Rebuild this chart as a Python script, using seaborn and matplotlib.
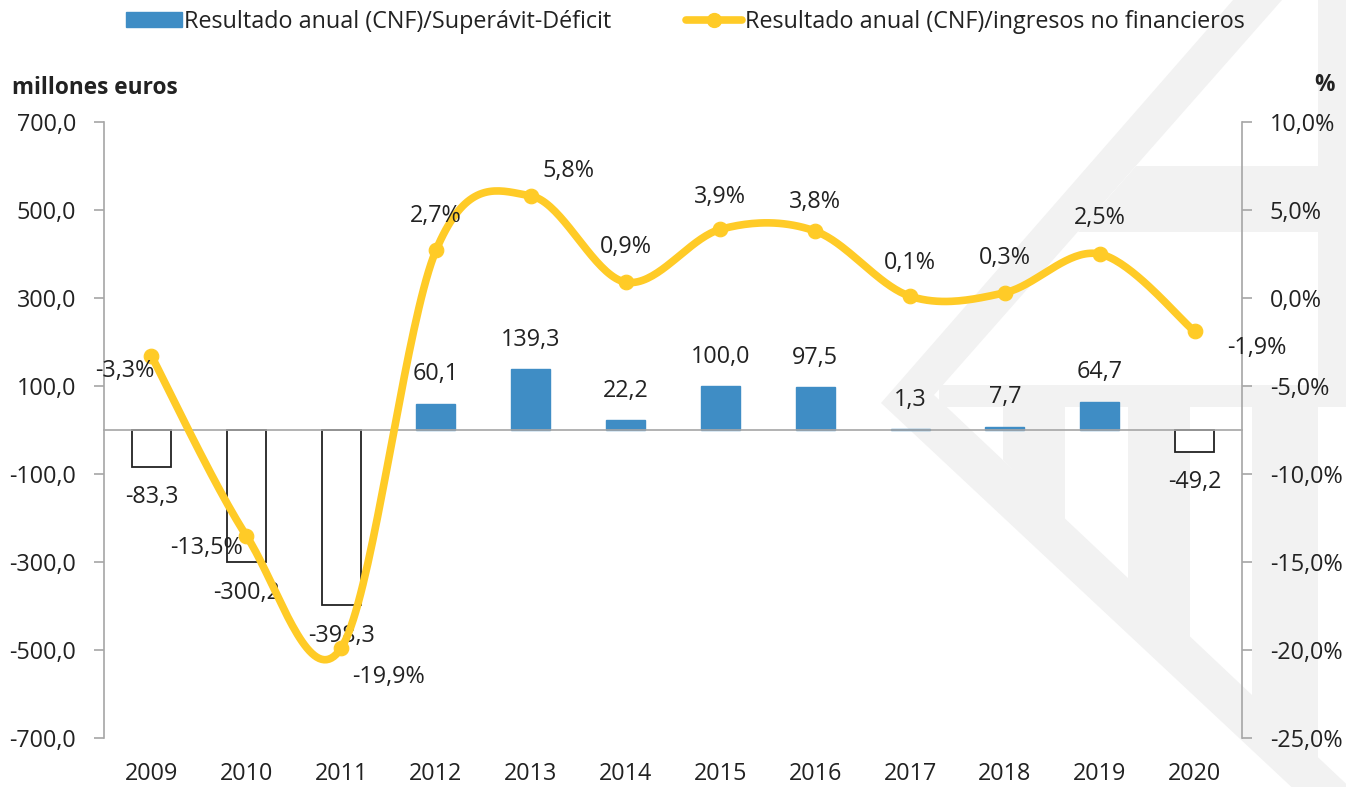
import numpy as np
import pandas as pd
import matplotlib
matplotlib.use("Agg")
import matplotlib.pyplot as plt
import seaborn as sns
from matplotlib.patches import Patch, Polygon
from matplotlib.lines import Line2D

# datos
anios = ["2009", "2010", "2011", "2012", "2013", "2014", "2015", "2016",
         "2017", "2018", "2019", "2020"]
resultado = [-83.3, -300.2, -398.3, 60.1, 139.3, 22.2, 100.0, 97.5, 1.3, 7.7, 64.7, -49.2]
ratio = [-3.3, -13.5, -19.9, 2.7, 5.8, 0.9, 3.9, 3.8, 0.1, 0.3, 2.5, -1.9]

# desplazamiento de las etiquetas del porcentaje (puntos)
off_ratio = [(-19, -11), (-29, -9), (34, -21), (0, 25), (27, 18), (0, 25),
             (0, 23), (0, 21), (0, 24), (0, 25), (0, 26), (45, -12)]

azul = "#3F8DC5"
amarillo = "#FFCB27"
texto = "#222222"
gris = "#A6A6A6"
fs = 16.8

sns.set_style("white")
plt.rcParams["font.family"] = ["Open Sans", "DejaVu Sans"]
plt.rcParams["font.size"] = fs

W, H = 1346, 787
fig = plt.figure(figsize=(W / 100, H / 100), dpi=100)

# marca de agua (logo gris claro al fondo), en pixeles de la figura
marca = [
    [(1233, 0), (1282, 0), (934, 395), (1358, 795), (1300, 795), (881, 403)],
    [(1136, 166), (1318, 166), (1318, 232), (1078, 232)],
    [(1318, 0), (1346, 0), (1346, 385), (1318, 385)],
    [(939, 385), (1346, 385), (1346, 407), (939, 407)],
    [(1003, 407), (1065, 407), (1065, 521), (1003, 460)],
    [(1128, 407), (1190, 407), (1190, 648), (1128, 582)],
    [(1252, 407), (1318, 407), (1318, 771), (1252, 700)],
]
for pts in marca:
    fig.patches.append(Polygon([(x / W, 1 - y / H) for x, y in pts], closed=True,
                               transform=fig.transFigure, facecolor="#F2F2F2",
                               edgecolor="none", zorder=-5))

ax = fig.add_axes([0.0773, 0.0623, 0.8454, 0.7827])
ax.set_facecolor("none")

df = pd.DataFrame({"anio": anios, "resultado": resultado})
sns.barplot(data=df, x="anio", y="resultado", ax=ax, width=0.41, color=azul,
            saturation=1)
for p, v in zip(ax.patches, resultado):
    if v < 0:
        p.set_facecolor("white")
        p.set_edgecolor("#222222")
        p.set_linewidth(1.3)
    else:
        p.set_edgecolor(azul)
    p.set_zorder(2)

ax.set_ylim(-700, 700)
ax.set_xlim(-0.5, len(anios) - 0.5)
yt = np.arange(-700, 701, 200)
ax.set_yticks(yt)
ax.set_yticklabels([f"{v:.1f}".replace(".", ",") for v in yt], color=texto)
ax.set_xlabel("")
ax.set_ylabel("")

# eje x en el cero con marcas entre categorias
ax.spines["bottom"].set_position(("data", 0))
ax.spines["top"].set_visible(False)
ax.spines["right"].set_visible(False)
for s in ["bottom", "left"]:
    ax.spines[s].set_color(gris)
    ax.spines[s].set_linewidth(1.2)
ax.set_xticks(np.arange(-0.5, len(anios), 1))
ax.set_xticklabels([])
ax.tick_params(axis="x", direction="out", length=7, color=gris, width=1.2)
ax.tick_params(axis="y", direction="out", length=7, color=gris, width=1.2,
               labelsize=fs, pad=13)

sec = ax.secondary_xaxis("bottom")
sec.set_xticks(range(len(anios)))
sec.set_xticklabels(anios, color=texto, fontsize=fs)
sec.tick_params(length=0, pad=17)
sec.spines["bottom"].set_visible(False)

for i, v in enumerate(resultado):
    lab = f"{v:.1f}".replace(".", ",")
    dy = 21 if v >= 0 else -22
    ax.annotate(lab, (i, v), xytext=(0, dy), textcoords="offset points",
                ha="center", va="center", fontsize=fs, color=texto, zorder=5)

# eje derecho: porcentaje
ax2 = ax.twinx()
ax2.set_ylim(-25, 10)
rt = np.arange(-25, 11, 5)
ax2.set_yticks(rt)
ax2.set_yticklabels([f"{v:.1f}%".replace(".", ",") for v in rt], color=texto)
for s in ["top", "left", "bottom"]:
    ax2.spines[s].set_visible(False)
ax2.spines["right"].set_color(gris)
ax2.spines["right"].set_linewidth(1.2)
ax2.tick_params(axis="y", direction="out", length=7, color=gris, width=1.2,
                labelsize=fs, pad=13)

# linea suavizada (bezier tipo Excel) a partir de los puntos
xs = np.arange(len(ratio), dtype=float)
ys = np.array(ratio, dtype=float)
px = np.concatenate([[xs[0]], xs, [xs[-1]]])
py = np.concatenate([[ys[0]], ys, [ys[-1]]])
cx, cy = [], []
t = np.linspace(0, 1, 40)
for i in range(len(xs) - 1):
    p0 = np.array([xs[i], ys[i]])
    p3 = np.array([xs[i + 1], ys[i + 1]])
    p1 = p0 + (np.array([px[i + 2], py[i + 2]]) - np.array([px[i], py[i]])) / 6
    p2 = p3 - (np.array([px[i + 3], py[i + 3]]) - np.array([px[i + 1], py[i + 1]])) / 6
    b = ((1 - t) ** 3)[:, None] * p0 + (3 * (1 - t) ** 2 * t)[:, None] * p1 \
        + (3 * (1 - t) * t ** 2)[:, None] * p2 + (t ** 3)[:, None] * p3
    cx.extend(b[:, 0])
    cy.extend(b[:, 1])
ax2.plot(cx, cy, color=amarillo, lw=5.5, solid_capstyle="round", zorder=3)
sns.scatterplot(x=xs, y=ys, ax=ax2, color=amarillo, s=110, edgecolor=amarillo,
                zorder=4, legend=False)

for i, v in enumerate(ratio):
    lab = f"{v:.1f}%".replace(".", ",")
    ax2.annotate(lab, (i, v), xytext=off_ratio[i], textcoords="offset points",
                 ha="center", va="center", fontsize=fs, color=texto, zorder=5)

fig.text(0.009, 0.888, "millones euros", fontsize=16.3, fontweight="bold",
         color=texto, va="center")
fig.text(0.992, 0.892, "%", fontsize=16.3, fontweight="bold", color=texto,
         va="center", ha="right")

handles = [Patch(facecolor=azul, edgecolor=azul),
           Line2D([0], [0], color=amarillo, lw=5.5, marker="o", markersize=10)]
fig.legend(handles, ["Resultado anual (CNF)/Superávit-Déficit",
                     "Resultado anual (CNF)/ingresos no financieros"],
           loc="center", bbox_to_anchor=(0.509, 0.972), ncol=2, frameon=False,
           fontsize=fs, handlelength=2.4, handleheight=0.6, handletextpad=0.1,
           columnspacing=3.2, labelcolor=texto)

fig.savefig("out.png", dpi=100)
